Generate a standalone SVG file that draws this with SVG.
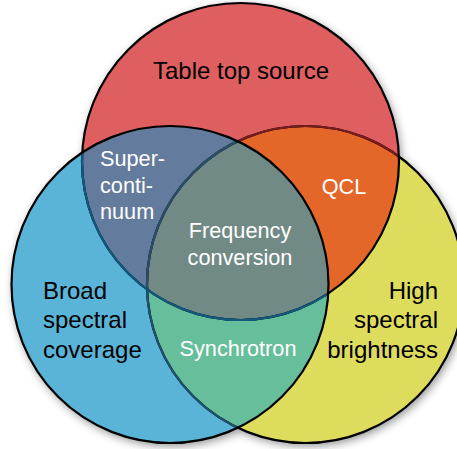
<svg xmlns="http://www.w3.org/2000/svg" width="457" height="449" viewBox="0 0 457 449">
<style>
.lbl{font-family:"Liberation Sans",Arial,sans-serif;font-size:24px;fill:#000}
.wl{font-family:"Liberation Sans",Arial,sans-serif;font-size:21.7px;fill:#fff}
.st{fill:none;stroke-width:2.2}
</style>
<defs>
<circle id="cr" cx="240.5" cy="161.5" r="158.5"/>
<circle id="cb" cx="170" cy="284.5" r="158.5"/>
<circle id="cy" cx="305.5" cy="284.5" r="158.5"/>
<clipPath id="kr"><use href="#cr"/></clipPath>
<clipPath id="kb"><use href="#cb"/></clipPath>
<clipPath id="ky"><use href="#cy"/></clipPath>
<filter id="sh" x="-20%" y="-20%" width="140%" height="140%">
<feDropShadow dx="2" dy="3" stdDeviation="5" flood-color="#000" flood-opacity="0.45"/>
</filter>
</defs>
<g id="shadow" filter="url(#sh)">
<use href="#cy" fill="#DEDC5D"/>
<use href="#cr" fill="#DF5F61"/>
<use href="#cb" fill="#5AB4D8"/>
</g>
<g id="table-top-source-fill"><use href="#cr" fill="#DF5F61"/></g>
<g id="broad-spectral-coverage-fill"><use href="#cb" fill="#5AB4D8"/></g>
<g id="high-spectral-brightness-fill"><use href="#cy" fill="#DEDC5D"/></g>
<g id="supercontinuum-fill"><g clip-path="url(#kr)"><use href="#cb" fill="#637B9C"/></g></g>
<g id="qcl-fill"><g clip-path="url(#kr)"><use href="#cy" fill="#E56629"/></g></g>
<g id="synchrotron-fill"><g clip-path="url(#kb)"><use href="#cy" fill="#66BE9B"/></g></g>
<g id="frequency-conversion-fill"><g clip-path="url(#kr)"><g clip-path="url(#kb)"><use href="#cy" fill="#728A86"/></g></g></g>
<g id="connectors">
<use href="#cy" class="st" stroke="#000"/>
<g clip-path="url(#kr)"><use href="#cy" class="st" stroke="#7A1C1E"/></g>
<g clip-path="url(#kb)"><use href="#cy" class="st" stroke="#1E5270"/></g>
<use href="#cr" class="st" stroke="#000"/>
<g clip-path="url(#kb)"><use href="#cr" class="st" stroke="#115A7E"/></g>
<use href="#cb" class="st" stroke="#000"/>
</g>
<g id="table-top-source">
<text class="lbl" x="241" y="79" text-anchor="middle">Table top source</text>
</g>
<g id="supercontinuum">
<text class="wl" x="100" y="166">Super-</text>
<text class="wl" x="100" y="193">conti-</text>
<text class="wl" x="100" y="219">nuum</text>
</g>
<g id="qcl">
<text class="wl" x="344" y="194" text-anchor="middle">QCL</text>
</g>
<g id="frequency-conversion">
<text class="wl" x="240" y="238" text-anchor="middle">Frequency</text>
<text class="wl" x="240" y="265" text-anchor="middle">conversion</text>
</g>
<g id="synchrotron">
<text class="wl" x="238" y="356" text-anchor="middle">Synchrotron</text>
</g>
<g id="broad-spectral-coverage">
<text class="lbl" x="43" y="299">Broad</text>
<text class="lbl" x="43" y="328">spectral</text>
<text class="lbl" x="43" y="358">coverage</text>
</g>
<g id="high-spectral-brightness">
<text class="lbl" x="438" y="299" text-anchor="end">High</text>
<text class="lbl" x="438" y="328" text-anchor="end">spectral</text>
<text class="lbl" x="438" y="358" text-anchor="end">brightness</text>
</g>
</svg>
